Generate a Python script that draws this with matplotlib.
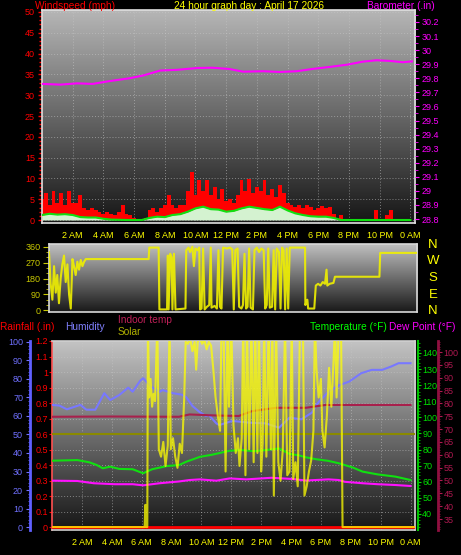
import numpy as np
import matplotlib
matplotlib.use("Agg")
import matplotlib.pyplot as plt
from matplotlib.ticker import MultipleLocator, FuncFormatter

# ---------------- data ----------------
hour_ticks = [2, 4, 6, 8, 10, 12, 14, 16, 18, 20, 22, 24]
hour_labels = ["2 AM", "4 AM", "6 AM", "8 AM", "10 AM", "12 PM", "2 PM", "4 PM",
               "6 PM", "8 PM", "10 PM", "0 AM"]

baro_hours = [0, 1.2, 2.3, 3.3, 4.4, 5.7, 6.6, 7.7, 8.8, 10.1, 11.1, 12.2, 13.1, 14.4,
              15.5, 16.6, 17.6, 18.7, 19.9, 20.9, 21.8, 22.7, 23.5, 24.1]
baro_inhg = [29.76, 29.755, 29.764, 29.76, 29.78, 29.80, 29.82, 29.855, 29.86, 29.873,
             29.875, 29.866, 29.847, 29.85, 29.845, 29.85, 29.866, 29.88, 29.897, 29.918,
             29.928, 29.923, 29.914, 29.92]

gust_hours = np.arange(0, 24.01, 0.25)
gust_mph = [5, 6.5, 3.5, 7, 4, 6.5, 3.5, 7, 4, 4, 6, 3, 2.5, 3, 2.5, 2,
            1.5, 2, 1.5, 1.2, 2, 3.5, 1.5, 1.2, 0.5, 0.3, 0.3, 0.5, 2.5, 3, 2, 3,
            3.5, 6, 3.5, 3, 3.5, 3.5, 7, 11.5, 6, 9.5, 7, 9.5, 6, 8, 5, 7.5,
            4.5, 5, 4, 6, 9.5, 7, 9.8, 6.5, 8, 7, 9.5, 6, 7.5, 5.5, 8.5, 6.5,
            4, 3.5, 3.2, 3.6, 3, 3.5, 3.2, 2.5, 3, 3.4, 2.8, 3.2, 1.5, 0.3, 1.2, 0.3,
            0.3, 0.3, 0.3, 0.3, 0.3, 0.3, 0.3, 2.5, 0.3, 0.3, 1.2, 2.5, 0.3, 0.3, 0.3, 0.3,
            0.3]

avg_hours = np.arange(0, 24.01, 0.5)
avg_mph = [1.2, 1.5, 1.3, 1.4, 1.2, 0.7, 0.6, 0.6, 0.3, 0.1, 0.05, 0, 0, 0, 0.5, 0.8,
           0.7, 1.2, 1.4, 2.0, 2.8, 3.2, 2.6, 2.5, 2.0, 2.2, 2.8, 3.2, 2.9, 2.6, 2.4, 3.2,
           2.3, 1.6, 1.2, 0.9, 0.8, 0.8, 0.5, 0, 0, 0, 0, 0, 0, 0, 0, 0, 0]

wdir_hours = [0, 0.11, 0.22, 0.33, 0.44, 0.54, 0.65, 0.76, 0.87, 0.98, 1.09, 1.2, 1.31,
              1.42, 1.53, 1.63, 1.74, 1.85, 1.96, 2.07, 2.18, 2.29, 2.4, 6.5, 6.54, 7.15,
              7.2, 7.7, 7.75, 7.8, 7.9, 8.0, 8.05, 8.15, 8.25, 8.9, 8.95, 9.1, 9.2, 9.35,
              9.45, 9.55, 9.7, 9.8, 9.85, 9.95, 10.05, 10.15, 10.3, 10.45, 10.55, 10.6,
              10.8, 10.95, 11.05, 11.15, 11.25, 11.35, 11.6, 11.8, 11.95, 12.05, 12.15,
              12.3, 12.4, 12.55, 12.65, 12.75, 12.85, 12.95, 13.05, 13.15, 13.3, 13.4,
              13.55, 13.7, 13.85, 14.0, 14.1, 14.2, 14.3, 14.4, 14.55, 14.65, 14.75,
              14.85, 15.0, 15.1, 15.2, 15.3, 15.4, 15.5, 15.6, 15.7, 16.7, 16.72, 16.85,
              16.9, 17.3, 17.4, 17.55, 17.7, 17.85, 18.0, 18.1, 18.15, 18.3, 18.55, 18.65,
              21.55, 21.6, 24]
wdir_deg = [330, 150, 60, 250, 100, 200, 40, 180, 260, 310, 160, 260, 90,
            10, 290, 250, 200, 275, 230, 285, 250, 275, 290, 290, 355, 355,
            5, 5, 310, 5, 320, 300, 5, 320, 5, 10, 340, 355, 330, 360,
            250, 350, 340, 355, 5, 10, 350, 5, 20, 30, 355, 15,
            25, 10, 340, 20, 10, 355, 350, 355, 345, 5, 340,
            350, 20, 10, 30, 320, 10, 20, 350, 15, 5, 340,
            355, 330, 350, 340, 10, 30, 350, 15, 20, 340, 5,
            350, 330, 10, 355, 340, 5, 350, 10, 355, 355, 30, 60,
            10, 10, 140, 150, 140, 160, 150, 230, 140, 150, 155, 190,
            190, 325, 325]

rain_hours = [0, 24.3]
rain_in = [0, 0]

hum_hours = [0, 0.5, 1.0, 1.9, 2.3, 2.9, 3.5, 3.9, 4.5, 5.1, 5.4, 5.9, 6.1, 6.3, 6.6,
             7.2, 7.4, 8.1, 8.7, 9.0, 9.4, 9.9, 10.3, 10.5, 11.0, 11.2, 11.9, 12.1, 13.2,
             14.3, 15.2, 15.9, 16.7, 17.4, 17.7, 17.9, 18.5, 19.2, 19.9, 20.7, 21.4, 22.1,
             22.7, 23.2, 24.0]
hum_pct = [66, 65.6, 63.6, 66, 63.4, 63.4, 72.3, 68.6, 71.3, 75.3, 73.1, 79, 80.4, 78.6,
           75.9, 73, 74, 72.3, 71.5, 70, 65.4, 62, 60, 60.5, 56, 55.1, 56.9, 57.3, 56.4,
           56, 53.7, 59.1, 58.2, 61.8, 66, 68, 73, 76.5, 78.6, 83.1, 84.9, 84.9, 86.7,
           88.5, 88.5]

solar_ref_hours = [0, 24.3]
solar_ref_pct = [50, 50]

indoor_hours = [0, 4, 8.5, 9.2, 11, 12.5, 13.4, 15, 17, 18.3, 20.1, 24]
indoor_f = [74.8, 74.9, 74.8, 75.7, 75.3, 75.1, 77, 78.3, 78.3, 79.4, 79.4, 79.4]

temp_hours = [0, 1.7, 2.5, 3.0, 3.4, 3.9, 4.5, 5.4, 6.1, 6.7, 7.7, 8.5, 9.0, 9.9, 10.7,
              11.9, 12.7, 13.5, 14.3, 15.2, 15.9, 16.5, 17.0, 17.7, 18.5, 19.2, 20.1,
              20.8, 21.8, 23.0, 24.0]
temp_f = [73.1, 73.5, 72.1, 70.4, 68.4, 69.4, 68, 67.8, 65.3, 67.8, 69.8, 70.4, 72.5,
          75.5, 76.8, 79.3, 79.7, 79, 79.7, 80.7, 77.3, 76.5, 75.2, 74, 73, 71.5, 69,
          66.3, 64.6, 63.2, 61.1]

dew_hours = [0, 1.7, 2.8, 4.2, 5.4, 6.1, 7.2, 8.5, 9.2, 9.9, 11.0, 11.9, 13.0, 14.7,
             16.0, 17.0, 18.5, 19.2, 19.6, 20.8, 21.8, 23.0, 24.0]
dew_f = [60.7, 60.5, 59.1, 58.5, 58.5, 57.8, 59.1, 60.2, 61.1, 61.5, 60.7, 62.1, 61.5,
         62.5, 61.8, 60.8, 61.5, 61.1, 60, 59.1, 58.5, 58, 57.4]

solar_hours = [0, 6.2, 6.25, 6.3, 6.38, 6.42, 6.5, 6.6, 6.7, 6.8, 6.9, 7.05, 7.15, 7.3,
               7.45, 7.6, 7.75, 7.87, 7.95, 8.1, 8.25, 8.4, 8.55, 8.7, 8.85, 8.95, 9.1,
               9.25, 9.4, 9.55, 9.65, 9.75, 9.9, 10.05, 10.2, 10.35, 10.5, 10.65, 10.8,
               10.95, 11.1, 11.25, 11.35, 11.5, 11.62, 11.75, 11.85, 12.0, 12.15, 12.3,
               12.45, 12.55, 12.7, 12.8, 12.95, 13.05, 13.2, 13.35, 13.5, 13.6, 13.75,
               13.85, 14.0, 14.1, 14.2, 14.35, 14.5, 14.65, 14.75, 14.85, 15.0, 15.15,
               15.3, 15.45, 15.6, 15.75, 15.9, 16.05, 16.15, 16.3, 16.45, 16.6, 16.8,
               16.9, 17.05, 17.2, 17.35, 17.5, 17.6, 17.7, 17.85, 18.0, 18.1, 18.25,
               18.4, 18.55, 18.7, 18.85, 18.95, 19.05, 19.2, 19.35, 19.45, 24.3]
solar_wm2 = [0, 0, 120, 0, 0, 1100, 700, 800, 650, 720, 680, 1100, 420, 380,
             460, 330, 440, 1100, 420, 480, 380, 320, 450, 400, 700, 1000, 990,
             1020, 950, 1000, 850, 1000, 1020, 990, 1010, 960, 1000, 980, 850,
             700, 600, 520, 1100, 1000, 300, 1100, 650, 1100, 550, 400,
             480, 330, 480, 1100, 280, 1100, 420, 1100, 350, 1100, 400,
             1100, 300, 450, 1100, 380, 1100, 420, 1100, 170, 1100, 350,
             250, 420, 1100, 280, 300, 1100, 260, 350, 220, 1100, 1100,
             170, 220, 300, 360, 520, 1100, 860, 700, 800, 520, 430,
             600, 860, 650, 900, 1100, 700, 1100, 1100, 0, 0]

# ---------------- helpers ----------------
W, H = 461, 555
plt.rcParams['font.family'] = ['Liberation Sans', 'DejaVu Sans']
fig = plt.figure(figsize=(W / 100, H / 100), dpi=100)
fig.patch.set_facecolor('black')


def px_axes(x0, y0, x1, y1):
    return fig.add_axes([x0 / W, 1 - y1 / H, (x1 - x0) / W, (y1 - y0) / H])


def add_bg(ax, top, bottom):
    g = np.linspace(top, bottom, 256) / 255.0
    img = np.repeat(g[:, None, None], 3, axis=2)
    ax.imshow(img, extent=(0, 1, 0, 1), transform=ax.transAxes, aspect='auto',
              zorder=0, interpolation='bilinear')


def ftext(x, y, s, color, size=7.3, ha='left'):
    fig.text(x / W, 1 - y / H, s, color=color, fontsize=size, ha=ha, va='center')


def gfmt(v, pos):
    return f"{v:.2f}".rstrip('0').rstrip('.')


grid_kw = dict(color='#c8c8c8', ls=(0, (1, 2)), lw=0.7, alpha=0.55)

# ---------------- top panel: wind + barometer ----------------
ax1 = px_axes(42, 10, 415, 223)
add_bg(ax1, 182, 22)
ax1.fill_between(gust_hours, 0, gust_mph, step='mid', color='#ff0000', lw=0, zorder=2)
ax1.fill_between(avg_hours, 0, avg_mph, color='#d4f2d0', lw=0, zorder=3)
ax1.plot(avg_hours, avg_mph, color='#10e010', lw=1.5, zorder=4)
ax1.set_xlim(0, 24.3)
ax1.set_ylim(-0.72, 50.48)
ax1.set_axisbelow(True)
ax1.grid(True, **grid_kw)
ax1.yaxis.set_major_locator(MultipleLocator(5))
ax1.yaxis.set_minor_locator(MultipleLocator(1))
ax1.tick_params(axis='y', which='major', colors='#ff0000', labelsize=6.5, length=3, width=1, pad=2)
ax1.tick_params(axis='y', which='minor', colors='#ff0000', length=2, width=1)
ax1.set_xticks(hour_ticks)
ax1.set_xticklabels(hour_labels)
ax1.tick_params(axis='x', colors='#ffff00', labelsize=6.5, length=0, pad=6)
for sp in ax1.spines.values():
    sp.set_color('#e0e0e0')
    sp.set_linewidth(1.2)

ax1b = ax1.twinx()
ax1b.plot(baro_hours, baro_inhg, color='#ff00ff', lw=1.5)
ax1b.set_ylim(28.772, 30.285)
ax1b.yaxis.set_major_locator(MultipleLocator(0.1))
ax1b.yaxis.set_minor_locator(MultipleLocator(0.05))
ax1b.yaxis.set_major_formatter(FuncFormatter(gfmt))
ax1b.tick_params(axis='y', which='major', colors='#ff00ff', labelsize=6.5, length=3, pad=2)
ax1b.tick_params(axis='y', which='minor', colors='#ff00ff', length=2)
for sp in ax1b.spines.values():
    sp.set_visible(False)

# ---------------- middle panel: wind direction ----------------
ax2 = px_axes(49, 244, 417, 312)
add_bg(ax2, 192, 25)
ax2.plot(wdir_hours, wdir_deg, color='#f0f000', lw=1.5, alpha=0.9, zorder=3)
ax2.set_xlim(0, 24)
ax2.set_ylim(-9.6, 375.3)
ax2.set_yticks([0, 90, 180, 270, 360])
ax2.yaxis.set_minor_locator(MultipleLocator(30))
ax2.tick_params(axis='y', which='major', colors='#c8c800', labelsize=6.5, length=4, pad=2)
ax2.tick_params(axis='y', which='minor', colors='#c8c800', length=2)
ax2.set_xticks([])
for sp in ax2.spines.values():
    sp.set_color('#d8d8d8')
    sp.set_linewidth(1.2)

for lab, yy in zip(["N", "W", "S", "E", "N"], [245, 261, 278, 295, 311]):
    ftext(433, yy, lab, '#ffff00', size=9.5, ha='center')

# ---------------- bottom panel ----------------
ax3 = px_axes(52, 341, 415, 530)
add_bg(ax3, 195, 22)
ax3.plot(rain_hours, rain_in, color='#ff0000', lw=2, zorder=3)
ax3.set_xlim(0, 24.3)
ax3.set_ylim(-0.019, 1.2)
ax3.set_axisbelow(True)
ax3.grid(True, **grid_kw)
ax3.yaxis.set_major_locator(MultipleLocator(0.1))
ax3.yaxis.set_major_formatter(FuncFormatter(gfmt))
ax3.tick_params(axis='y', colors='#ff0000', labelsize=6.5, length=2, pad=1)
ax3.set_xticks(hour_ticks)
ax3.set_xticklabels(hour_labels)
ax3.tick_params(axis='x', colors='#ffff00', labelsize=6.5, length=0, pad=6)
for sp in ax3.spines.values():
    sp.set_color('#d0d0d0')
    sp.set_linewidth(1.2)
ax3.spines['left'].set_color('#ff5050')
ax3.spines['left'].set_linestyle((0, (2, 1)))

axh = ax3.twinx()
axh.plot(solar_ref_hours, solar_ref_pct, color='#8a8a00', lw=1.5)
axh.plot(hum_hours, hum_pct, color='#7878ff', lw=1.5)
axh.set_ylim(-1.6, 100.5)
for sp in axh.spines.values():
    sp.set_visible(False)
axh.spines['left'].set_visible(True)
axh.spines['left'].set_position(('axes', (30 - 52) / 363))
axh.spines['left'].set_color('#6060ff')
axh.spines['left'].set_linewidth(2)
axh.yaxis.set_ticks_position('left')
axh.yaxis.set_major_locator(MultipleLocator(10))
axh.yaxis.set_minor_locator(MultipleLocator(2))
axh.tick_params(axis='y', which='major', colors='#7070ff', labelsize=6.5, length=3, pad=2)
axh.tick_params(axis='y', which='minor', colors='#6060ff', length=1.5)

axi = ax3.twinx()
axi.plot(indoor_hours, indoor_f, color='#a8204c', lw=1.5)
axi.set_ylim(30.72, 104.3)
for sp in axi.spines.values():
    sp.set_visible(False)
axi.spines['right'].set_visible(True)
axi.spines['right'].set_position(('axes', (438 - 52) / 363))
axi.spines['right'].set_color('#901040')
axi.spines['right'].set_linewidth(2)
axi.yaxis.set_major_locator(MultipleLocator(5))
axi.yaxis.set_minor_locator(MultipleLocator(1))
axi.tick_params(axis='y', which='major', colors='#b01850', labelsize=6.5, length=3, pad=1)
axi.tick_params(axis='y', which='minor', colors='#901040', length=1.5)

axt = ax3.twinx()
axt.plot(temp_hours, temp_f, color='#10e010', lw=1.5)
axt.plot(dew_hours, dew_f, color='#ff10ff', lw=1.5)
axt.set_ylim(30.06, 147.45)
for sp in axt.spines.values():
    sp.set_visible(False)
axt.spines['right'].set_visible(True)
axt.spines['right'].set_position(('axes', (418 - 52) / 363))
axt.spines['right'].set_color('#00c000')
axt.spines['right'].set_linewidth(1.5)
axt.yaxis.set_minor_locator(MultipleLocator(2))
axt.set_yticks([40, 50, 60, 70, 80, 90, 100, 110, 120, 130, 140])
axt.tick_params(axis='y', which='major', colors='#00e000', labelsize=6.5, length=2, pad=1)
axt.tick_params(axis='y', which='minor', colors='#00c000', length=1.5)

axs = ax3.twinx()
axs.plot(solar_hours, solar_wm2, color='#ffff00', lw=1.5, alpha=0.75)
axs.set_ylim(-16, 1005)
axs.set_yticks([])
for sp in axs.spines.values():
    sp.set_visible(False)

# ---------------- texts ----------------
ftext(35, 6, "Windspeed (mph)", '#ff0000')
ftext(249, 6, "24 hour graph day : April 17 2026", '#ffff00', ha='center')
ftext(367, 6, "Barometer (.in)", '#ff00ff')
ftext(0, 327, "Rainfall (.in)", '#ff0000')
ftext(65, 327, "Humidity", '#8080ff')
ftext(118, 320, "Indoor temp", '#c02058')
ftext(118, 332, "Solar", '#b0b000')
ftext(310, 327, "Temperature (\u00b0F)", '#00ff00')
ftext(389, 327, "Dew Point (\u00b0F)", '#ff00ff')

fig.savefig("out.png", dpi=100, facecolor='black')
